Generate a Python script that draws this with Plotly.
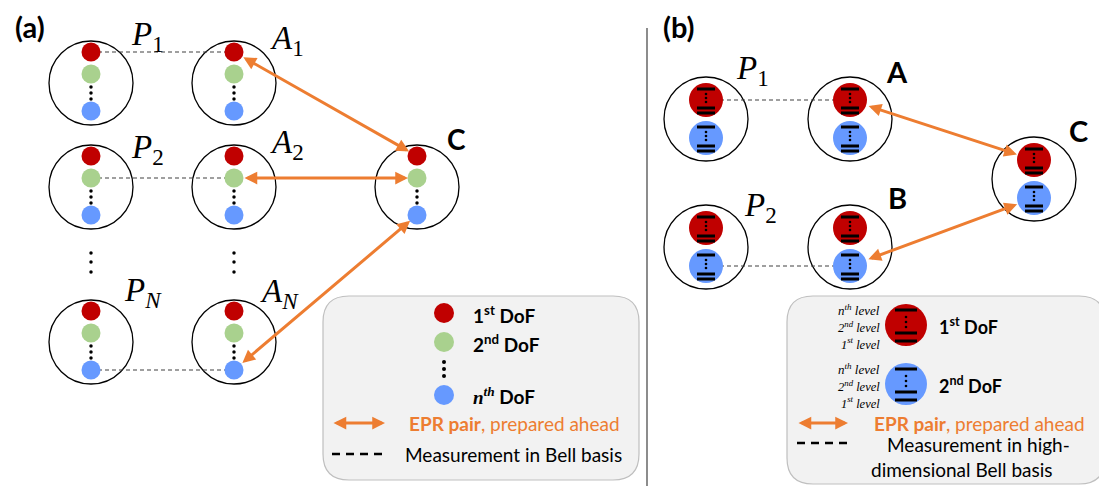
import plotly.graph_objects as go

W, H = 1107, 489
PAGE_OFF = 8  # browser body margin
ORANGE = "#ED7D31"
RED, GREEN, BLUE = "#C00000", "#A9D18E", "#6699FF"
SANS = "Lato"
SERIF = "Liberation Serif"

# ---------------- Panel (a) data ----------------
a_nodes = ["P1", "A1", "P2", "A2", "PN", "AN", "C"]
a_node_x = [91, 234, 91, 234, 91, 234, 417]
a_node_y = [83, 83, 187, 187, 342, 342, 187]
a_dof_colors = [RED, GREEN, BLUE]
a_dof_offset = [-31, -9, 28]
a_ellipsis_offset = [4, 10, 16]
a_measure_pairs = [("P1", "A1", 0), ("P2", "A2", 1), ("PN", "AN", 2)]
a_epr_pairs = [("A1", 0, "C", 0), ("A2", 1, "C", 1), ("AN", 2, "C", 2)]
a_labels = [("<i>P</i><sub>1</sub>", 129, 36), ("<i>A</i><sub>1</sub>", 268, 40),
            ("<i>P</i><sub>2</sub>", 129, 149), ("<i>A</i><sub>2</sub>", 268, 144),
            ("<i>P</i><sub><i>N</i></sub>", 122, 292), ("<i>A</i><sub><i>N</i></sub>", 258, 293)]

# ---------------- Panel (b) data ----------------
b_nodes = ["P1", "A", "P2", "B", "C"]
b_node_x = [706, 850, 706, 850, 1034]
b_node_y = [119, 119, 247, 247, 179]
b_dof_colors = [RED, BLUE]
b_dof_offset = [-19, 19]
b_measure_pairs = [("P1", "A", 0), ("P2", "B", 1)]
b_epr_pairs = [("A", 0, "C", 0), ("B", 1, "C", 1)]
b_labels_math = [("<i>P</i><sub>1</sub>", 734, 70), ("<i>P</i><sub>2</sub>", 742, 207)]
b_labels_bold = [("A", 897, 71), ("B", 897, 197), ("C", 1078, 130)]

fig = go.Figure()
shapes = []
annots = []
DASH = "4px,3px"


def circle(cx, cy, r, color="black", width=1.3, fill=None, layer="below"):
    shapes.append(dict(type="circle", xref="x", yref="y", x0=cx - r, x1=cx + r,
                       y0=cy - r, y1=cy + r, line=dict(color=color, width=width),
                       fillcolor=fill, layer=layer))


def line(x0, y0, x1, y1, color="black", width=1, dash="solid", layer="below"):
    shapes.append(dict(type="line", xref="x", yref="y", x0=x0, y0=y0, x1=x1, y1=y1,
                       line=dict(color=color, width=width, dash=dash), layer=layer))


def text(t, x, y, size=18, color="black", family=SANS, xanchor="left", yanchor="middle",
         pad=1, align="left"):
    annots.append(dict(text=t, x=x, y=y, xref="x", yref="y", showarrow=False,
                       xanchor=xanchor, yanchor=yanchor, borderpad=pad, align=align,
                       font=dict(size=size, color=color, family=family)))


def arrow(x0, y0, x1, y1, so=0, sso=0):
    annots.append(dict(x=x1, y=y1, ax=x0, ay=y0, xref="x", yref="y", axref="x", ayref="y",
                       text="", showarrow=True, arrowhead=2, startarrowhead=2,
                       arrowside="end+start", arrowsize=0.85, startarrowsize=0.85,
                       arrowwidth=3, arrowcolor=ORANGE, standoff=so, startstandoff=sso))


def rounded_box(x0, y0, x1, y1, r):
    p = (f"M{x0 + r},{y0} L{x1 - r},{y0} Q{x1},{y0} {x1},{y0 + r} L{x1},{y1 - r} "
         f"Q{x1},{y1} {x1 - r},{y1} L{x0 + r},{y1} Q{x0},{y1} {x0},{y1 - r} "
         f"L{x0},{y0 + r} Q{x0},{y0} {x0 + r},{y0} Z")
    shapes.append(dict(type="path", xref="x", yref="y", path=p, fillcolor="#F2F2F2",
                       line=dict(color="#BFBFBF", width=1.2), layer="below"))


def small_dots(xs, ys, size=3.5):
    fig.add_trace(go.Scatter(x=xs, y=ys, mode="markers", hoverinfo="skip",
                             marker=dict(size=size, color="black"), showlegend=False))


# ======== Panel (a) ========
text("<b>(a)</b>", 30, 26, size=29, xanchor="center", pad=0)
apos = {n: (x, y) for n, x, y in zip(a_nodes, a_node_x, a_node_y)}
for n in a_nodes:
    cx, cy = apos[n]
    circle(cx, cy, 42)
for (p, a, k) in a_measure_pairs:
    line(apos[p][0], apos[p][1] + a_dof_offset[k], apos[a][0], apos[a][1] + a_dof_offset[k],
         color="#404040", width=1.1, dash=DASH)
for (n1, k1, n2, k2) in a_epr_pairs:
    arrow(apos[n1][0], apos[n1][1] + a_dof_offset[k1], apos[n2][0], apos[n2][1] + a_dof_offset[k2],
          so=9, sso=9)
for k, col in enumerate(a_dof_colors):
    fig.add_trace(go.Scatter(x=[apos[n][0] for n in a_nodes],
                             y=[apos[n][1] + a_dof_offset[k] for n in a_nodes],
                             mode="markers", hoverinfo="skip", showlegend=False,
                             marker=dict(size=19, color=col)))
ex, ey = [], []
for n in a_nodes:
    for o in a_ellipsis_offset:
        ex.append(apos[n][0]); ey.append(apos[n][1] + o)
for x in (91, 234):
    for yy in (253, 262, 272):
        ex.append(x); ey.append(yy)
small_dots(ex, ey, 3.5)
for t, x, y in a_labels:
    text(t, x, y, size=33, family=SERIF)
text("<b>C</b>", 456, 139, size=28, xanchor="center")

# legend (a)
rounded_box(323, 296, 639, 480, 26)
leg_a_y = [313, 342, 395]
leg_a_txt = ["<b>1<sup>st</sup> DoF</b>", "<b>2<sup>nd</sup> DoF</b>",
             "<b><span style='font-family:Liberation Serif'><i>n<sup>th</sup></i></span> DoF</b>"]
fig.add_trace(go.Scatter(x=[444] * 3, y=leg_a_y, mode="markers", hoverinfo="skip",
                         showlegend=False, marker=dict(size=20, color=a_dof_colors)))
small_dots([444] * 3, [362, 369, 376], 4)
for t, y in zip(leg_a_txt, leg_a_y):
    text(t, 471, y + 1, size=19)
arrow(332, 423, 385, 423)
text("<b>EPR pair</b>, prepared ahead", 407, 423, size=19, color=ORANGE)
line(332, 454, 384, 454, color="black", width=2.5, dash="8px,6px")
text("Measurement in Bell basis", 403, 454, size=19)

# divider
line(647, 28, 647, 486, color="#404040", width=1.2)

# ======== Panel (b) ========
text("<b>(b)</b>", 679, 26, size=29, xanchor="center", pad=0)
bpos = {n: (x, y) for n, x, y in zip(b_nodes, b_node_x, b_node_y)}
for n in b_nodes:
    circle(bpos[n][0], bpos[n][1], 42)
for (p, a, k) in b_measure_pairs:
    line(bpos[p][0], bpos[p][1] + b_dof_offset[k], bpos[a][0], bpos[a][1] + b_dof_offset[k],
         color="#404040", width=1.1, dash=DASH)
for (n1, k1, n2, k2) in b_epr_pairs:
    arrow(bpos[n1][0], bpos[n1][1] + b_dof_offset[k1], bpos[n2][0], bpos[n2][1] + b_dof_offset[k2],
          so=18, sso=18)
for k, col in enumerate(b_dof_colors):
    fig.add_trace(go.Scatter(x=[bpos[n][0] for n in b_nodes],
                             y=[bpos[n][1] + b_dof_offset[k] for n in b_nodes],
                             mode="markers", hoverinfo="skip", showlegend=False,
                             marker=dict(size=34, color=col)))


def levels(cx, cy, half, offs, dots):
    for o in offs:
        line(cx - half, cy + o, cx + half, cy + o, color="black", width=3, layer="above")
    small_dots([cx] * len(dots), [cy + d for d in dots], 2.6)


for n in b_nodes:
    for k in range(2):
        levels(bpos[n][0], bpos[n][1] + b_dof_offset[k], 9, [-11, 8, 13], [-6, -2, 2])
for t, x, y in b_labels_math:
    text(t, x, y, size=33, family=SERIF)
for t, x, y in b_labels_bold:
    text(f"<b>{t}</b>", x, y, size=29, xanchor="center")

# legend (b)
rounded_box(787, 296, 1105, 484, 26)
leg_b_y = [325, 384]
fig.add_trace(go.Scatter(x=[906] * 2, y=leg_b_y, mode="markers", hoverinfo="skip",
                         showlegend=False, marker=dict(size=42, color=b_dof_colors)))
for y in leg_b_y:
    levels(906, y, 11, [-15, 8, 16], [-8, -3, 2])
    text("<i>n<sup>th</sup> level</i>", 881, y - 15, size=13, family=SERIF, xanchor="right", pad=0)
    text("<i>2<sup>nd</sup> level</i><br><i>1<sup>st</sup> level</i>", 881, y + 10,
         size=12.5, family=SERIF, xanchor="right", pad=0, align="right")
text("<b>1<sup>st</sup> DoF</b>", 937, 326, size=18)
text("<b>2<sup>nd</sup> DoF</b>", 937, 385, size=18)
arrow(797, 423, 848, 423)
text("<b>EPR pair</b>, prepared ahead", 872, 423, size=19, color=ORANGE)
line(797, 443, 847, 443, color="black", width=2.5, dash="8px,6px")
text("Measurement in high-", 885, 444, size=19)
text("dimensional Bell basis", 869, 469, size=19)

fig.update_layout(
    width=W - PAGE_OFF, height=H - PAGE_OFF, margin=dict(l=0, r=0, t=0, b=0),
    paper_bgcolor="white", plot_bgcolor="white",
    xaxis=dict(range=[PAGE_OFF, W], visible=False, fixedrange=True),
    yaxis=dict(range=[H, PAGE_OFF], visible=False, fixedrange=True),
    shapes=shapes, annotations=annots, showlegend=False,
)
fig.write_html("out.html")
